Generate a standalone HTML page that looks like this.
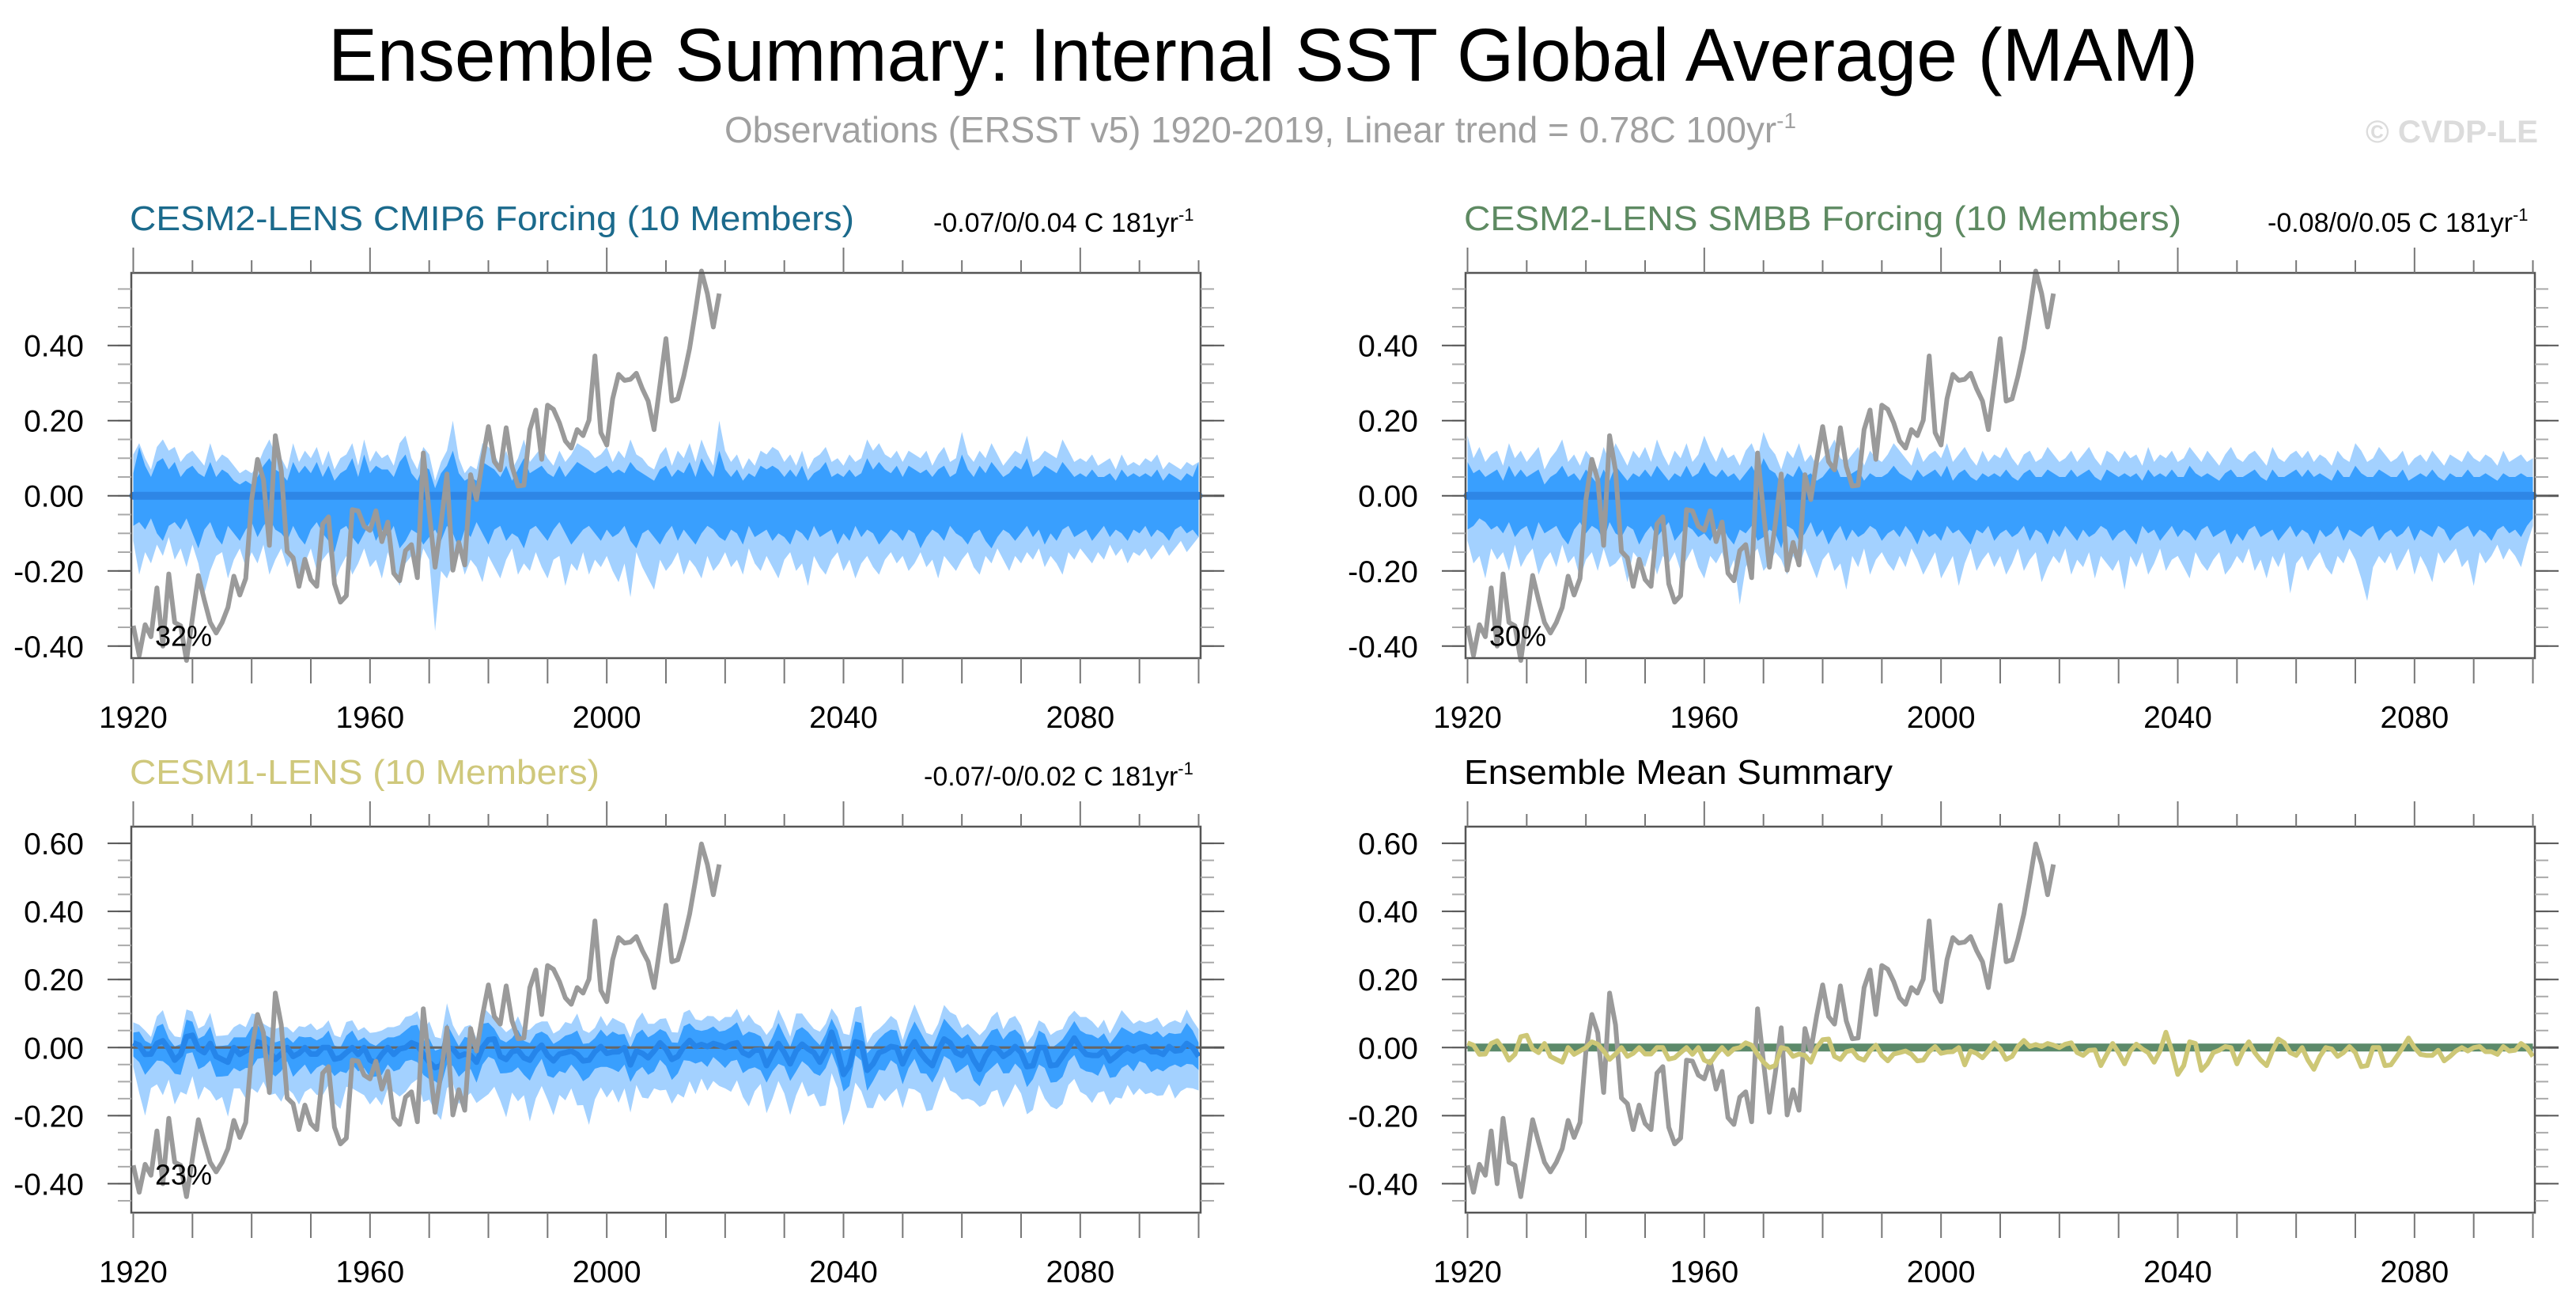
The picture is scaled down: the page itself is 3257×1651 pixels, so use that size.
<!DOCTYPE html>
<html><head><meta charset="utf-8"><title>Ensemble Summary</title>
<style>
html,body{margin:0;padding:0;background:#fff;}
svg{display:block;font-family:"Liberation Sans",Arial,sans-serif;}
</style></head>
<body>
<svg id="fig" width="3257" height="1651" viewBox="0 0 3257 1651" xmlns="http://www.w3.org/2000/svg">
<text x="415" y="102" font-size="95" textLength="2364" lengthAdjust="spacingAndGlyphs" fill="#000">Ensemble Summary: Internal SST Global Average (MAM)</text>
<text x="916" y="180" font-size="46" fill="#a0a0a0" textLength="1355" lengthAdjust="spacingAndGlyphs">Observations (ERSST v5) 1920-2019, Linear trend = 0.78C 100yr<tspan dy="-18" font-size="28">-1</tspan></text>
<text x="2991" y="180" font-size="40" font-weight="bold" fill="#dcdcdc" textLength="218" lengthAdjust="spacingAndGlyphs">© CVDP-LE</text>
<g id="panels"></g>
</svg>
<script>
// ---- data (values in hundredths of degC for band arrays) ----
const startYear = 1920;
const obsValues = [-0.346,-0.425,-0.343,-0.375,-0.245,-0.40,-0.208,-0.337,-0.346,-0.438,
-0.326,-0.212,-0.277,-0.337,-0.365,-0.337,-0.297,-0.214,-0.264,-0.22,
-0.01,0.097,0.043,-0.132,0.16,0.067,-0.148,-0.165,-0.241,-0.169,
-0.223,-0.241,-0.075,-0.056,-0.234,-0.283,-0.266,-0.037,-0.04,-0.081,
-0.092,-0.04,-0.122,-0.07,-0.206,-0.226,-0.146,-0.13,-0.218,0.114,
-0.043,-0.19,-0.075,0.058,-0.198,-0.124,-0.184,0.056,-0.01,0.094,
0.184,0.091,0.069,0.181,0.078,0.026,0.028,0.176,0.228,0.097,
0.241,0.23,0.194,0.146,0.127,0.176,0.16,0.201,0.372,0.168,
0.135,0.258,0.323,0.307,0.31,0.326,0.285,0.252,0.176,0.296,
0.418,0.252,0.258,0.318,0.392,0.492,0.598,0.538,0.449,0.538];
const cesm1Mean = [0.014,0.007,-0.02,-0.019,0.012,0.02,-0.004,-0.037,-0.02,0.032,
0.036,-0.004,-0.015,0.012,-0.026,-0.035,-0.043,0,-0.02,-0.01,
0,0.017,0.01,-0.01,-0.035,-0.019,0,-0.026,-0.017,0,
-0.019,-0.019,0,0,-0.034,-0.03,-0.015,0,-0.02,0,
-0.037,-0.045,-0.02,0,-0.02,-0.004,0,0.014,0.007,-0.02,
-0.043,-0.059,-0.053,0,-0.004,-0.026,-0.019,-0.023,-0.043,0,
0.023,0.025,-0.026,-0.035,-0.012,-0.008,-0.03,-0.037,-0.01,0.007,
-0.023,-0.039,-0.019,-0.015,-0.01,-0.02,-0.039,-0.037,-0.012,0.003,
-0.017,-0.013,-0.012,0,-0.051,-0.01,-0.017,-0.03,-0.01,0.014,
-0.004,-0.035,-0.026,0.003,0.021,0.003,0.009,0.003,0.012,0.007,
0,0.01,0.014,-0.015,-0.023,-0.008,-0.007,-0.053,-0.02,0.012,
-0.015,-0.048,-0.01,0.01,-0.004,-0.015,-0.043,-0.01,0.045,-0.01,
-0.079,-0.053,0.017,0.012,-0.067,-0.048,-0.015,-0.008,0.003,0,
-0.048,-0.01,0.017,-0.015,-0.037,-0.053,-0.01,0.025,0.014,-0.015,
-0.023,0,-0.037,-0.064,-0.026,0,-0.004,-0.026,-0.015,0.003,
-0.015,-0.056,-0.053,0,0,-0.053,-0.051,-0.026,0,0.028,
0,-0.02,-0.023,-0.023,-0.008,-0.039,-0.026,-0.01,0,-0.01,
0,0.003,-0.012,-0.012,-0.02,0.003,-0.01,-0.008,0.012,0,-0.026];
const p1OuterHi = [11,14,10,7,13,15,12,13,9,11,12,10,8,14,9,11,10,8,6,7,6,8,12,15,11,10,7,14,9,12,10,13,8,12,7,10,11,14,8,15,9,12,10,11,8,14,16,10,7,13,11,4,9,12,20,10,6,8,7,14,13,11,8,12,7,10,15,9,11,13,10,8,12,9,11,14,13,12,10,11,13,9,12,10,15,11,10,8,7,11,13,8,12,10,14,9,15,11,8,20,12,9,11,7,10,8,12,11,13,12,9,11,8,12,7,10,11,13,9,10,8,11,9,10,15,12,14,11,10,12,9,12,11,10,12,8,11,13,9,10,17,11,9,12,10,14,11,8,10,12,11,16,9,10,12,11,10,15,12,9,10,9,11,8,9,10,7,11,8,9,8,10,9,11,7,9,8,7,9,8,9];
const p1InnerHi = [6,13,8,5,9,10,7,9,5,7,8,6,5,9,5,7,6,4,3,4,3,5,8,10,7,6,4,9,6,8,6,9,5,8,4,6,7,10,5,11,6,8,7,7,5,9,11,6,4,8,7,2,6,8,12,6,4,5,4,9,8,7,5,8,4,7,10,6,7,8,6,5,8,5,7,9,8,7,6,7,8,6,7,6,9,7,6,5,4,7,8,5,7,6,9,5,10,7,5,12,7,5,7,4,6,5,8,7,8,7,5,7,5,8,4,6,7,9,5,6,5,7,5,6,10,7,9,7,6,8,5,8,7,6,7,5,7,8,5,6,11,7,5,8,6,9,7,5,6,8,7,10,5,6,8,7,6,9,7,5,6,5,7,5,5,6,4,7,5,6,5,6,5,7,4,6,5,4,6,5,9];
const p1InnerLo = [8,7,9,6,10,12,8,7,9,6,10,14,9,7,11,13,8,10,12,9,7,11,8,6,9,10,12,8,11,13,9,7,10,12,15,9,8,11,13,10,7,12,9,11,8,14,12,9,10,13,11,9,12,8,10,14,9,11,7,10,13,9,8,12,10,11,14,9,8,10,12,9,7,10,13,11,9,8,10,12,9,11,10,8,12,14,10,9,11,13,10,8,12,9,11,13,10,8,9,11,12,9,10,13,8,11,10,9,12,10,11,13,9,10,12,8,11,10,9,13,10,12,8,11,9,10,13,11,9,10,12,9,10,14,11,9,10,12,8,10,11,13,10,9,12,14,11,9,10,12,10,8,11,9,13,10,12,9,8,11,10,9,12,10,8,11,9,10,12,9,10,8,11,9,10,12,9,8,10,9,11];
const p1OuterLo = [12,21,15,18,13,16,11,17,14,19,13,18,26,20,16,15,22,17,14,19,15,18,13,21,17,14,19,16,22,18,14,20,17,15,23,19,16,21,18,14,19,17,22,15,20,24,18,16,21,14,17,36,20,22,18,15,21,17,19,23,16,19,22,17,14,21,18,20,15,19,22,17,16,24,18,20,15,21,17,19,16,20,23,18,27,15,19,22,25,17,20,18,15,21,17,19,22,16,20,18,15,19,17,21,14,18,20,16,19,22,17,15,20,18,24,16,19,21,17,15,20,17,22,18,16,19,21,17,15,18,16,20,18,15,19,17,22,16,18,20,17,15,19,21,16,18,14,17,20,16,18,15,17,14,19,16,18,21,15,17,14,16,18,15,17,13,16,14,18,15,16,14,17,15,13,16,14,12,15,13,11];
const p2OuterHi = [16,10,13,9,11,12,8,14,10,12,9,11,13,7,10,12,15,9,11,8,12,10,7,13,9,14,11,8,12,10,13,9,15,11,8,12,10,14,9,11,16,12,9,13,10,11,8,12,14,10,17,13,11,7,12,10,14,9,11,8,10,12,15,10,9,11,13,8,12,10,9,11,14,12,10,8,13,9,11,12,10,14,9,11,13,10,8,12,9,11,10,13,10,8,11,12,9,10,13,11,9,10,12,9,11,13,10,8,12,11,9,12,10,11,8,13,9,11,10,12,9,10,13,11,9,12,10,8,11,13,10,9,11,12,10,8,13,10,9,11,12,10,12,9,11,10,8,12,10,9,14,12,9,10,13,11,9,10,12,8,10,11,9,12,10,8,11,10,9,12,10,9,11,10,8,12,9,10,11,9,10,9];
const p2InnerHi = [9,6,7,5,6,7,4,8,5,7,5,6,7,3,5,6,8,5,6,4,7,5,3,7,4,8,6,4,6,5,7,5,8,6,4,6,5,8,5,6,9,6,5,7,5,6,4,6,8,5,10,7,6,3,6,5,8,5,6,4,5,7,9,5,5,6,7,4,6,5,5,6,8,6,5,4,7,5,6,7,5,8,4,6,7,5,4,6,5,6,5,7,5,4,6,7,5,5,7,6,5,5,7,5,6,7,5,4,7,6,5,6,5,6,4,7,5,6,5,7,5,5,8,6,5,6,5,4,6,7,5,5,6,7,5,4,7,5,5,6,7,5,7,5,6,5,4,7,5,5,8,6,5,5,7,6,5,5,7,4,5,6,5,7,5,4,6,5,5,7,5,5,6,5,4,6,5,5,6,5,5,3];
const p2InnerLo = [9,8,6,7,9,8,10,7,11,9,8,12,7,10,9,8,11,13,9,7,10,8,9,12,7,10,11,8,9,13,10,8,11,9,7,12,10,8,9,11,10,12,9,8,11,13,9,10,8,12,11,9,10,14,8,9,12,10,7,11,9,13,10,8,12,9,11,10,8,9,12,10,9,11,8,10,13,9,11,10,12,8,10,9,11,13,9,10,8,12,10,9,11,10,8,12,9,10,13,9,11,8,10,12,9,11,10,8,9,12,10,9,11,13,8,10,9,12,10,8,11,9,10,12,9,8,11,10,9,13,10,12,9,8,11,10,9,12,10,8,11,9,10,13,9,11,10,8,12,9,10,11,9,8,12,10,9,11,10,8,12,9,10,11,8,9,12,10,9,8,11,9,10,12,9,8,10,9,11,8,6];
const p2OuterLo = [12,18,16,22,14,17,15,20,13,19,16,14,21,17,15,19,13,18,16,22,17,15,20,14,19,18,16,23,15,17,19,14,21,16,18,15,20,17,14,19,22,16,18,15,21,17,29,19,16,14,20,18,15,17,21,16,19,14,18,22,17,15,20,18,25,16,19,14,21,17,15,18,20,16,19,14,17,21,18,15,22,19,16,24,18,14,20,17,15,19,16,21,18,14,20,17,15,23,19,16,18,14,21,17,19,15,22,16,18,20,17,25,16,19,15,21,18,14,20,17,16,19,22,15,18,20,17,15,21,19,16,18,14,20,17,22,16,19,15,26,18,16,20,17,15,19,21,16,18,14,17,22,28,19,16,18,15,20,17,14,21,16,19,23,15,18,16,14,19,17,24,15,18,16,13,17,14,16,19,13,8];
const p3OuterUp = [6,6,7,5,8,9,6,7,5,8,7,6,8,9,6,7,8,6,9,7,10,8,6,7,9,8,6,7,8,6,9,7,6,8,7,6,9,8,7,6,8,9,7,6,8,7,9,8,10,7,12,9,8,13,7,6,8,9,7,12,8,6,9,8,7,10,8,9,8,7,10,8,7,9,8,12,9,8,7,9,8,10,9,7,8,9,12,10,8,7,9,8,7,10,9,8,7,9,8,7,9,8,10,9,12,8,7,9,8,10,9,8,11,9,8,7,9,8,7,10,12,9,10,11,8,9,7,8,9,8,7,9,11,10,8,9,8,10,9,11,8,7,9,10,8,9,11,8,10,9,8,7,9,8,7,9,10,8,9,8,9,11,10,8,9,8,10,12,9,8,8,7,9,10,8,7,9,8,10,8,8];
const p3InnerUp = [3,4,4,3,5,5,3,4,3,5,4,3,5,5,3,4,5,3,5,4,6,5,3,4,5,4,3,4,5,3,5,4,3,5,4,3,5,5,4,3,5,5,4,3,5,4,5,5,6,4,7,5,5,7,4,3,5,5,4,7,5,3,5,5,4,6,5,5,5,4,6,5,4,5,5,7,5,5,4,5,5,6,5,4,5,5,7,6,5,4,5,5,4,6,5,5,4,5,5,4,5,5,6,5,7,5,4,5,5,6,5,5,6,5,5,4,5,5,4,6,7,5,6,6,5,5,4,5,5,5,4,5,6,6,5,5,5,6,5,6,5,4,5,6,5,5,6,5,6,5,5,4,5,5,4,5,6,5,5,5,5,6,6,5,5,5,6,7,5,5,5,4,5,6,5,4,5,5,6,5,4];
const p3InnerDn = [4,5,6,4,5,6,5,4,6,5,5,6,4,5,6,5,4,6,5,5,6,5,4,6,5,5,4,6,5,5,6,4,5,6,5,4,6,5,5,6,5,4,6,5,5,6,4,5,5,6,5,4,6,5,5,6,5,4,6,5,5,6,5,4,6,5,5,6,5,4,6,5,5,6,4,5,6,5,5,6,4,5,6,5,5,6,4,5,6,5,5,6,5,4,6,5,5,6,4,5,6,5,5,6,4,5,6,5,5,6,4,5,6,5,5,6,4,5,6,5,5,6,4,5,6,5,5,6,4,5,6,5,5,6,4,5,6,5,5,6,4,5,6,5,5,6,4,5,6,5,5,6,4,5,6,5,5,6,4,5,6,5,5,6,4,5,6,5,5,6,4,5,6,5,5,6,4,5,6,5,4];
const p3OuterDn = [7,14,18,10,12,16,9,13,11,17,12,15,10,14,13,11,16,12,10,14,12,15,11,13,10,14,12,11,15,13,10,12,14,11,13,15,10,12,11,14,13,10,15,12,11,14,13,12,10,14,11,13,16,12,10,14,13,11,12,15,16,14,13,17,12,15,11,18,14,12,13,16,12,14,11,15,13,19,14,12,13,11,15,12,14,10,13,12,11,14,12,13,11,15,12,14,10,13,11,12,12,14,11,13,15,12,10,14,13,11,12,15,13,11,14,12,13,16,12,11,15,13,12,14,11,13,12,15,14,12,13,11,14,12,15,13,12,11,14,12,13,15,12,11,14,13,12,15,13,11,12,14,13,11,15,12,13,14,11,12,13,12,14,11,12,13,12,14,11,13,12,14,12,13,12,11,14,12,13,12,10];

const yearTicks = [1920,1960,2000,2040,2080];
const yTicks12 = [-0.40,-0.20,0.00,0.20,0.40];
const yTicks34 = [-0.40,-0.20,0.00,0.20,0.40,0.60];

const NS = "http://www.w3.org/2000/svg";
const root = document.getElementById('panels');
function mk(tag, attrs, parent){
  const e = document.createElementNS(NS, tag);
  for (const k in attrs) e.setAttribute(k, attrs[k]);
  (parent||root).appendChild(e);
  return e;
}

const panels = [
 {id:'cmip6', x0:166, x1:1518, y0:345, y1:832, vmin:-0.432, vmax:0.593, ticks:yTicks12,
  title:'CESM2-LENS CMIP6 Forcing (10 Members)', tcol:'#1b6a8c', tlen:916, stat:'-0.07/0/0.04 C 181yr', statX:1180, statLen:335, pct:'32%', kind:'zero',
  oHi:p1OuterHi, iHi:p1InnerHi, iLo:p1InnerLo, oLo:p1OuterLo},
 {id:'smbb', x0:1853, x1:3205, y0:345, y1:832, vmin:-0.432, vmax:0.593, ticks:yTicks12,
  title:'CESM2-LENS SMBB Forcing (10 Members)', tcol:'#5e8a62', tlen:907, stat:'-0.08/0/0.05 C 181yr', statX:2867, statLen:335, pct:'30%', kind:'zero',
  oHi:p2OuterHi, iHi:p2InnerHi, iLo:p2InnerLo, oLo:p2OuterLo},
 {id:'cesm1', x0:166, x1:1518, y0:1045, y1:1533, vmin:-0.485, vmax:0.649, ticks:yTicks34,
  title:'CESM1-LENS (10 Members)', tcol:'#cfc87c', tlen:594, stat:'-0.07/-0/0.02 C 181yr', statX:1168, statLen:347, pct:'23%', kind:'cesm1',
  oHi:p3OuterUp, iHi:p3InnerUp, iLo:p3InnerDn, oLo:p3OuterDn},
 {id:'summary', x0:1853, x1:3205, y0:1045, y1:1533, vmin:-0.485, vmax:0.649, ticks:yTicks34,
  title:'Ensemble Mean Summary', tcol:'#000', tlen:542, kind:'summary'}
];

panels.forEach(p=>{
  const g = mk('g', {});
  
  
  const xs = yr => p.x0 + 2.5 + (yr - startYear) * (p.x1 - p.x0 - 5) / 180;
  const ys = v => p.y0 + (p.vmax - v) / (p.vmax - p.vmin) * (p.y1 - p.y0);

  const t = mk('text', {x:p.x0-2, y:p.y0-54, 'font-size':44, fill:p.tcol, textLength:p.tlen, lengthAdjust:'spacingAndGlyphs'}, g);
  t.textContent = p.title;
  
  
  if (p.stat){
    const s = mk('text', {x:p.statX, y:p.y0-52, 'font-size':34, fill:'#000'}, g);
    
    
    s.appendChild(document.createTextNode(p.stat));
    const sup = mk('tspan', {dy:-14, 'font-size':22}, s); sup.textContent='-1';
  }

  const n = 181;
  const center = i => p.kind==='cesm1' ? cesm1Mean[i] : 0;
  function band(hiArr, loArr, col, name){
    let d = '';
    for (let i=0;i<n;i++) d += (i?'L':'M') + xs(startYear+i).toFixed(1) + ' ' + ys(center(i)+hiArr[i]/100).toFixed(1);
    for (let i=n-1;i>=0;i--) d += 'L' + xs(startYear+i).toFixed(1) + ' ' + ys(center(i)-loArr[i]/100).toFixed(1);
    const e = mk('path', {d:d+'Z', fill:col}, g);
    
    
  }
  if (p.oHi){
    band(p.oHi, p.oLo, '#a3d1ff', 'outer-spread-band');
    band(p.iHi, p.iLo, '#399ffe', 'inner-spread-band');
  }

  const z = mk('line', {x1:p.x0, x2:p.x1+30, y1:ys(0), y2:ys(0), stroke:'#666', 'stroke-width':3}, g);
  
  

  function series(vals, col, w, name){
    const pts = vals.map((v,i)=> xs(startYear+i).toFixed(1)+','+ys(v).toFixed(1)).join(' ');
    const e = mk('polyline', {points:pts, fill:'none', stroke:col, 'stroke-width':w, 'stroke-linejoin':'round'}, g);
    
    
  }
  if (p.kind==='zero'){
    const m = mk('line', {x1:xs(1920), x2:xs(2100), y1:ys(0), y2:ys(0), stroke:'#2e86e6', 'stroke-width':10, 'stroke-linecap':'round'}, g);
    
    
  }
  if (p.kind==='cesm1') series(cesm1Mean, '#2585ea', 7, 'ensemble-mean-line');
  if (p.kind==='summary'){
    const m = mk('line', {x1:xs(1920), x2:xs(2100), y1:ys(0), y2:ys(0), stroke:'#5c8a6a', 'stroke-width':10}, g);
    
    
  }
  series(obsValues, '#9a9a9a', 6, 'observed-ersst-line');
  if (p.kind==='summary') series(cesm1Mean, '#cdc776', 6, 'cesm1-ensemble-mean-line');

  if (p.pct){
    const pc = mk('text', {x:p.x0+30, y:ys(-0.37)+14, 'font-size':36, fill:'#000'}, g);
    pc.textContent = p.pct;
    
    
  }

  const f = mk('rect', {x:p.x0, y:p.y0, width:p.x1-p.x0, height:p.y1-p.y0, fill:'none', stroke:'#555', 'stroke-width':2.5}, g);
  
  

  for (let yr=1920; yr<=2100; yr+=10){
    const x = xs(yr), major = (yr-1920)%40===0;
    mk('line', {x1:x, x2:x, y1:p.y0-(major?32:16), y2:p.y0, stroke:'#777', 'stroke-width':2}, g);
    mk('line', {x1:x, x2:x, y1:p.y1, y2:p.y1+32, stroke:'#777', 'stroke-width':2}, g);
  }
  yearTicks.forEach(yr=>{
    const l = mk('text', {x:xs(yr), y:p.y1+88, 'font-size':39, 'text-anchor':'middle', fill:'#000'}, g);
    l.textContent = yr;
    
    
  });
  for (let k=Math.ceil(p.vmin/0.05); k*0.05<=p.vmax; k++){
    const y = ys(k*0.05);
    mk('line', {x1:p.x0-17, x2:p.x0, y1:y, y2:y, stroke:'#aaa', 'stroke-width':2}, g);
    mk('line', {x1:p.x1, x2:p.x1+17, y1:y, y2:y, stroke:'#aaa', 'stroke-width':2}, g);
  }
  p.ticks.forEach(v=>{
    const y = ys(v);
    mk('line', {x1:p.x0-30, x2:p.x0, y1:y, y2:y, stroke:'#555', 'stroke-width':2}, g);
    mk('line', {x1:p.x1, x2:p.x1+30, y1:y, y2:y, stroke:'#555', 'stroke-width':2}, g);
    const l = mk('text', {x:p.x0-60, y:y+14, 'font-size':39, 'text-anchor':'end', fill:'#000'}, g);
    l.textContent = v.toFixed(2);
    
    
  });
});
</script>
</body></html>
